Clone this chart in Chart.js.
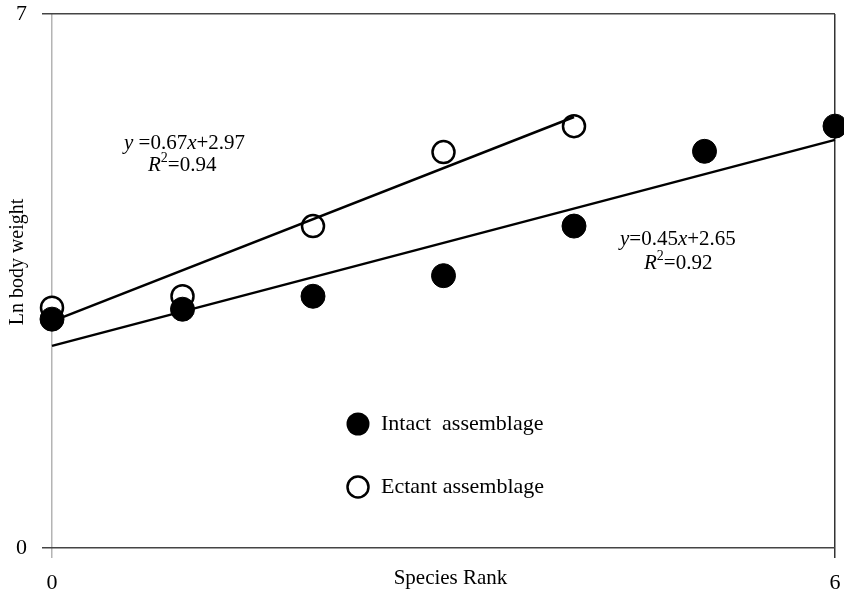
<!DOCTYPE html>
<html>
<head>
<meta charset="utf-8">
<script src="https://cdn.jsdelivr.net/npm/chart.js@4"></script>
<style>
  body { margin: 0; background: #fff; }
  #wrap { width: 844px; height: 602px; }
</style>
</head>
<body>
<div id="wrap"><canvas id="myChart" width="844" height="602"></canvas></div>
<script>
const rankIntact = [0, 1, 2, 3, 4, 5, 6];
const lnIntact = [3.00, 3.13, 3.30, 3.57, 4.22, 5.20, 5.53];
const rankEctant = [0, 1, 2, 3, 4];
const lnEctant = [3.15, 3.30, 4.22, 5.19, 5.53];

// fitted lines: [intact, ectant]
const fitSlope = [0.45, 0.67];
const fitIntercept = [2.65, 2.97];
const fitFrom = [0, 0];
const fitTo = [6, 4];
const fitR2 = ['0.92', '0.94'];

const xTicks = [0, 6];
const yTicks = [0, 7];
const seriesNames = ['Intact  assemblage', 'Ectant assemblage'];

const serif = "'Liberation Serif', 'Times New Roman', serif";

const toPoints = (xs, ys) => xs.map((x, i) => ({ x: x, y: ys[i] }));
const fitLine = i => [fitFrom[i], fitTo[i]].map(x => ({ x: x, y: fitIntercept[i] + fitSlope[i] * x }));

// text pieces: [text, italic, superscript]
function drawRich(ctx, x, y, parts) {
  parts.forEach(p => {
    const size = p[2] ? 14 : 21;
    ctx.font = (p[1] ? 'italic ' : '') + size + 'px ' + serif;
    ctx.fillText(p[0], x, p[2] ? y - 9 : y);
    x += ctx.measureText(p[0]).width;
  });
}

const extras = {
  id: 'extras',
  afterDraw(chart) {
    const ctx = chart.ctx;
    const a = chart.chartArea;
    ctx.save();
    ctx.fillStyle = '#000';
    ctx.textBaseline = 'alphabetic';
    ctx.textAlign = 'left';

    // equations
    drawRich(ctx, a.left + 72, 149, [['y', true], [' =' + fitSlope[1]], ['x', true], ['+' + fitIntercept[1]]]);
    drawRich(ctx, a.left + 96, 171, [['R', true], ['2', false, true], ['=' + fitR2[1]]]);
    drawRich(ctx, a.left + 568, 245, [['y', true], ['=' + fitSlope[0]], ['x', true], ['+' + fitIntercept[0]]]);
    drawRich(ctx, a.left + 592, 269, [['R', true], ['2', false, true], ['=' + fitR2[0]]]);

    // legend inside the plot
    const lx = a.left + 306;
    const ly = [424, 487];
    ly.forEach((y, i) => {
      ctx.beginPath();
      if (i === 0) {
        ctx.arc(lx, y, 11.5, 0, Math.PI * 2);
        ctx.fillStyle = '#000';
        ctx.fill();
      } else {
        ctx.arc(lx, y, 10.5, 0, Math.PI * 2);
        ctx.fillStyle = '#fff';
        ctx.fill();
        ctx.lineWidth = 2.5;
        ctx.strokeStyle = '#000';
        ctx.stroke();
      }
      ctx.fillStyle = '#000';
      ctx.font = '22px ' + serif;
      ctx.textBaseline = 'middle';
      ctx.fillText(seriesNames[i], lx + 23, y);
    });

    // axis titles
    ctx.font = '21px ' + serif;
    ctx.textAlign = 'center';
    ctx.textBaseline = 'middle';
    ctx.fillText('Species Rank', (a.left + a.right) / 2 + 7, 578);
    ctx.font = '20px ' + serif;
    ctx.translate(18, 262);
    ctx.rotate(-Math.PI / 2);
    ctx.fillText('Ln body weight', 0, 0);
    ctx.restore();
  }
};

const ctx = document.getElementById('myChart').getContext('2d');
const myChart = new Chart(ctx, {
  type: 'scatter',
  data: {
    datasets: [
      {
        type: 'line',
        label: 'fit intact',
        data: fitLine(0),
        borderColor: '#000',
        borderWidth: 2.5,
        pointRadius: 0,
        fill: false,
        clip: false,
      },
      {
        type: 'line',
        label: 'fit ectant',
        data: fitLine(1),
        borderColor: '#000',
        borderWidth: 2.5,
        pointRadius: 0,
        fill: false,
        clip: false,
      },
      {
        label: seriesNames[0],
        data: toPoints(rankIntact, lnIntact),
        backgroundColor: '#000',
        borderColor: '#000',
        borderWidth: 1,
        pointRadius: 12,
        clip: false,
      },
      {
        label: seriesNames[1],
        data: toPoints(rankEctant, lnEctant),
        backgroundColor: '#fff',
        borderColor: '#000',
        borderWidth: 2.5,
        pointRadius: 11,
        clip: false,
      },
    ],
  },
  options: {
    responsive: false,
    animation: false,
    devicePixelRatio: 1,
    layout: { autoPadding: false, padding: { top: 14, right: 9, left: 0, bottom: 0 } },
    plugins: {
      legend: { display: false },
      tooltip: { enabled: false },
    },
    scales: {
      x: {
        type: 'linear',
        min: 0,
        max: 6,
        afterBuildTicks: s => { s.ticks = xTicks.map(v => ({ value: v })); },
        afterFit: s => {
          s.height = 54;
          s.paddingLeft = 0;
          s.paddingRight = 0;
        },
        border: { display: false },
        grid: {
          color: c => (c.tick && c.tick.value === 0 ? '#b4b4b4' : '#333'),
          lineWidth: 1.5,
          tickLength: 10,
        },
        ticks: {
          padding: 12,
          color: '#000',
          font: { family: serif, size: 22 },
        },
      },
      y: {
        min: 0,
        max: 7,
        afterBuildTicks: s => { s.ticks = yTicks.map(v => ({ value: v })); },
        afterFit: s => {
          s.width = 52;
          s.paddingTop = 0;
          s.paddingBottom = 0;
        },
        border: { display: false },
        grid: {
          color: '#444',
          lineWidth: 1.5,
          tickLength: 10,
        },
        ticks: {
          padding: 15,
          color: '#000',
          font: { family: serif, size: 22 },
        },
      },
    },
  },
  plugins: [extras],
});
</script>
</body>
</html>
